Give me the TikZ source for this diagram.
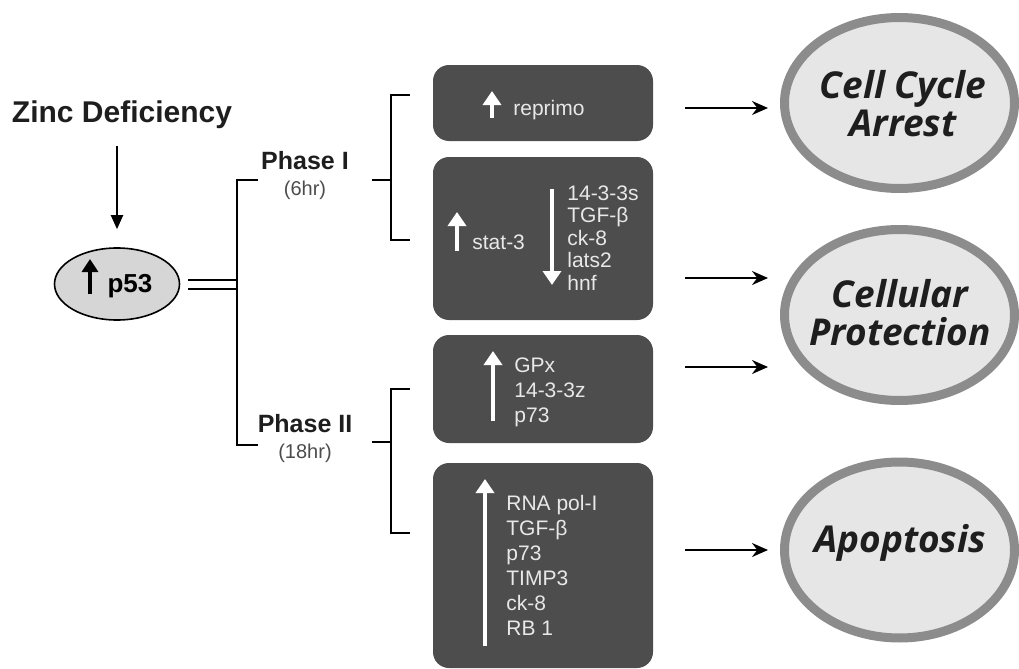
\documentclass[tikz,border=0pt]{standalone}
\usepackage{fontspec}
\setmainfont{Liberation Sans}
\newfontfamily\outfont{Open Sans}
\usetikzlibrary{arrows.meta,shapes.geometric}
\definecolor{boxgray}{HTML}{4D4D4D}
\definecolor{boxtext}{HTML}{E8E8E8}
\definecolor{rimgray}{HTML}{8C8C8C}
\definecolor{ovalfill}{HTML}{E6E6E6}
\definecolor{pfill}{HTML}{D6D6D6}
\definecolor{inkgray}{HTML}{1E1E1E}

\begin{document}
\begin{tikzpicture}[x=0.5pt, y=-0.5pt,
  genebox/.style={fill=boxgray, rounded corners=8pt, minimum width=110pt, inner sep=0pt},
  genes/.style={text=boxtext, font=\fontsize{10.5}{12.5}\selectfont, align=left, inner sep=0pt, anchor=west},
  upmark/.style={draw=white, line width=2.2pt, -{Triangle[width=9pt,length=7pt]}},
  outcome/.style={ellipse, draw=rimgray, line width=4.5pt, fill=ovalfill, minimum width=115pt,
                  inner sep=0pt},
  outtext/.style={align=center, inner sep=0pt, text=inkgray,
                  font=\outfont\bfseries\itshape\fontsize{18.5}{19}\selectfont},
  link/.style={line width=1pt, -{Triangle[width=6pt,length=7pt]}},
  outlink/.style={line width=1pt, -{Stealth[width=7pt,length=8pt]}},
  bracket/.style={line width=1pt},
  phase/.style={align=center, inner sep=0pt, text=inkgray},
]
  \useasboundingbox (0,0) rectangle (1019,669);

  % Start
  \node[text=inkgray, font=\bfseries\fontsize{15}{18}\selectfont] (zinc) at (122,115) {Zinc Deficiency};
  \node[ellipse, draw, line width=0.8pt, fill=pfill, minimum width=62.5pt, minimum height=36pt] (p53) at (117,284) {};
  \node[font=\bfseries\fontsize{13}{15}\selectfont] (p53lbl) at (130,286) {p53};
  \draw[line width=2.4pt, -{Triangle[width=8pt,length=6.5pt]}] (90,294) -- (90,259);
  \draw[link, shorten <=5pt, shorten >=9pt] (zinc.south -| p53.north) -- (p53.north);

  % Phases
  \coordinate (fork) at (237,284);
  \draw[line width=1pt, double, double distance=3.5pt, shorten <=4pt] (p53.east) -- (fork);
  \draw[bracket] (258,180) -- (237,180) -- (237,445) -- (258,445);
  \node[phase] (ph1) at (305,176) {{\bfseries\fontsize{12.5}{14}\selectfont Phase I}\\[1pt]
                                   {\color{black!70}\fontsize{10}{12}\selectfont (6hr)}};
  \node[phase] (ph2) at (305,439) {{\bfseries\fontsize{12.5}{14}\selectfont Phase II}\\[1pt]
                                   {\color{black!70}\fontsize{10}{12}\selectfont (18hr)}};
  \draw[bracket] (372,180) -- (391,180);
  \draw[bracket] (410,95) -- (391,95) -- (391,240) -- (410,240);
  \draw[bracket] (372,442) -- (391,442);
  \draw[bracket] (410,389) -- (391,389) -- (391,533) -- (410,533);

  % Gene boxes
  \node[genebox, minimum height=38pt] (box1) at (543,103) {};
  \node[genebox, minimum height=81.5pt] (box2) at (543,238.5) {};
  \node[genebox, minimum height=54pt] (box3) at (543,389) {};
  \node[genebox, minimum height=102.5pt] (box4) at (543,565.5) {};

  \draw[upmark] (492,118) -- (492,91);
  \node[genes] (g1) at (513,110) {reprimo};
  \draw[upmark] (457,251) -- (457,212);
  \node[genes] (g2a) at (472,242) {stat-3};
  \draw[upmark] (552,189) -- (552,285);
  \node[genes, font=\fontsize{10.5}{11.25}\selectfont] (g2b) at (567,238)
    {14-3-3s\\TGF-β\\ck-8\\lats2\\hnf};
  \draw[upmark] (493,421) -- (493,351);
  \node[genes] (g3) at (514,392) {GPx\\14-3-3z\\p73};
  \draw[upmark] (485,646) -- (485,479);
  \node[genes] (g4) at (506,565) {RNA pol-I\\TGF-β\\p73\\TIMP3\\ck-8\\RB 1};

  % Outcomes
  \node[outcome, minimum height=85.5pt] (arrest) at (899.5,103) {};
  \node[outcome, minimum height=85.5pt] (protect) at (899.5,315) {};
  \node[outcome, minimum height=88pt] (apop) at (899.5,550) {};
  \node[outtext] (arrestlbl) at (903,104) {Cell Cycle\\Arrest};
  \node[outtext] (protectlbl) at (900,313) {Cellular\\Protection};
  \node[outtext] (apoplbl) at (900,543) {Apoptosis};

  \foreach \y/\e in {108/arrest, 278/protect, 367/protect, 550/apop}
    \draw[outlink, shorten >=6pt] (685,\y) -- (\e.west |- 0,\y);
\end{tikzpicture}
\end{document}
